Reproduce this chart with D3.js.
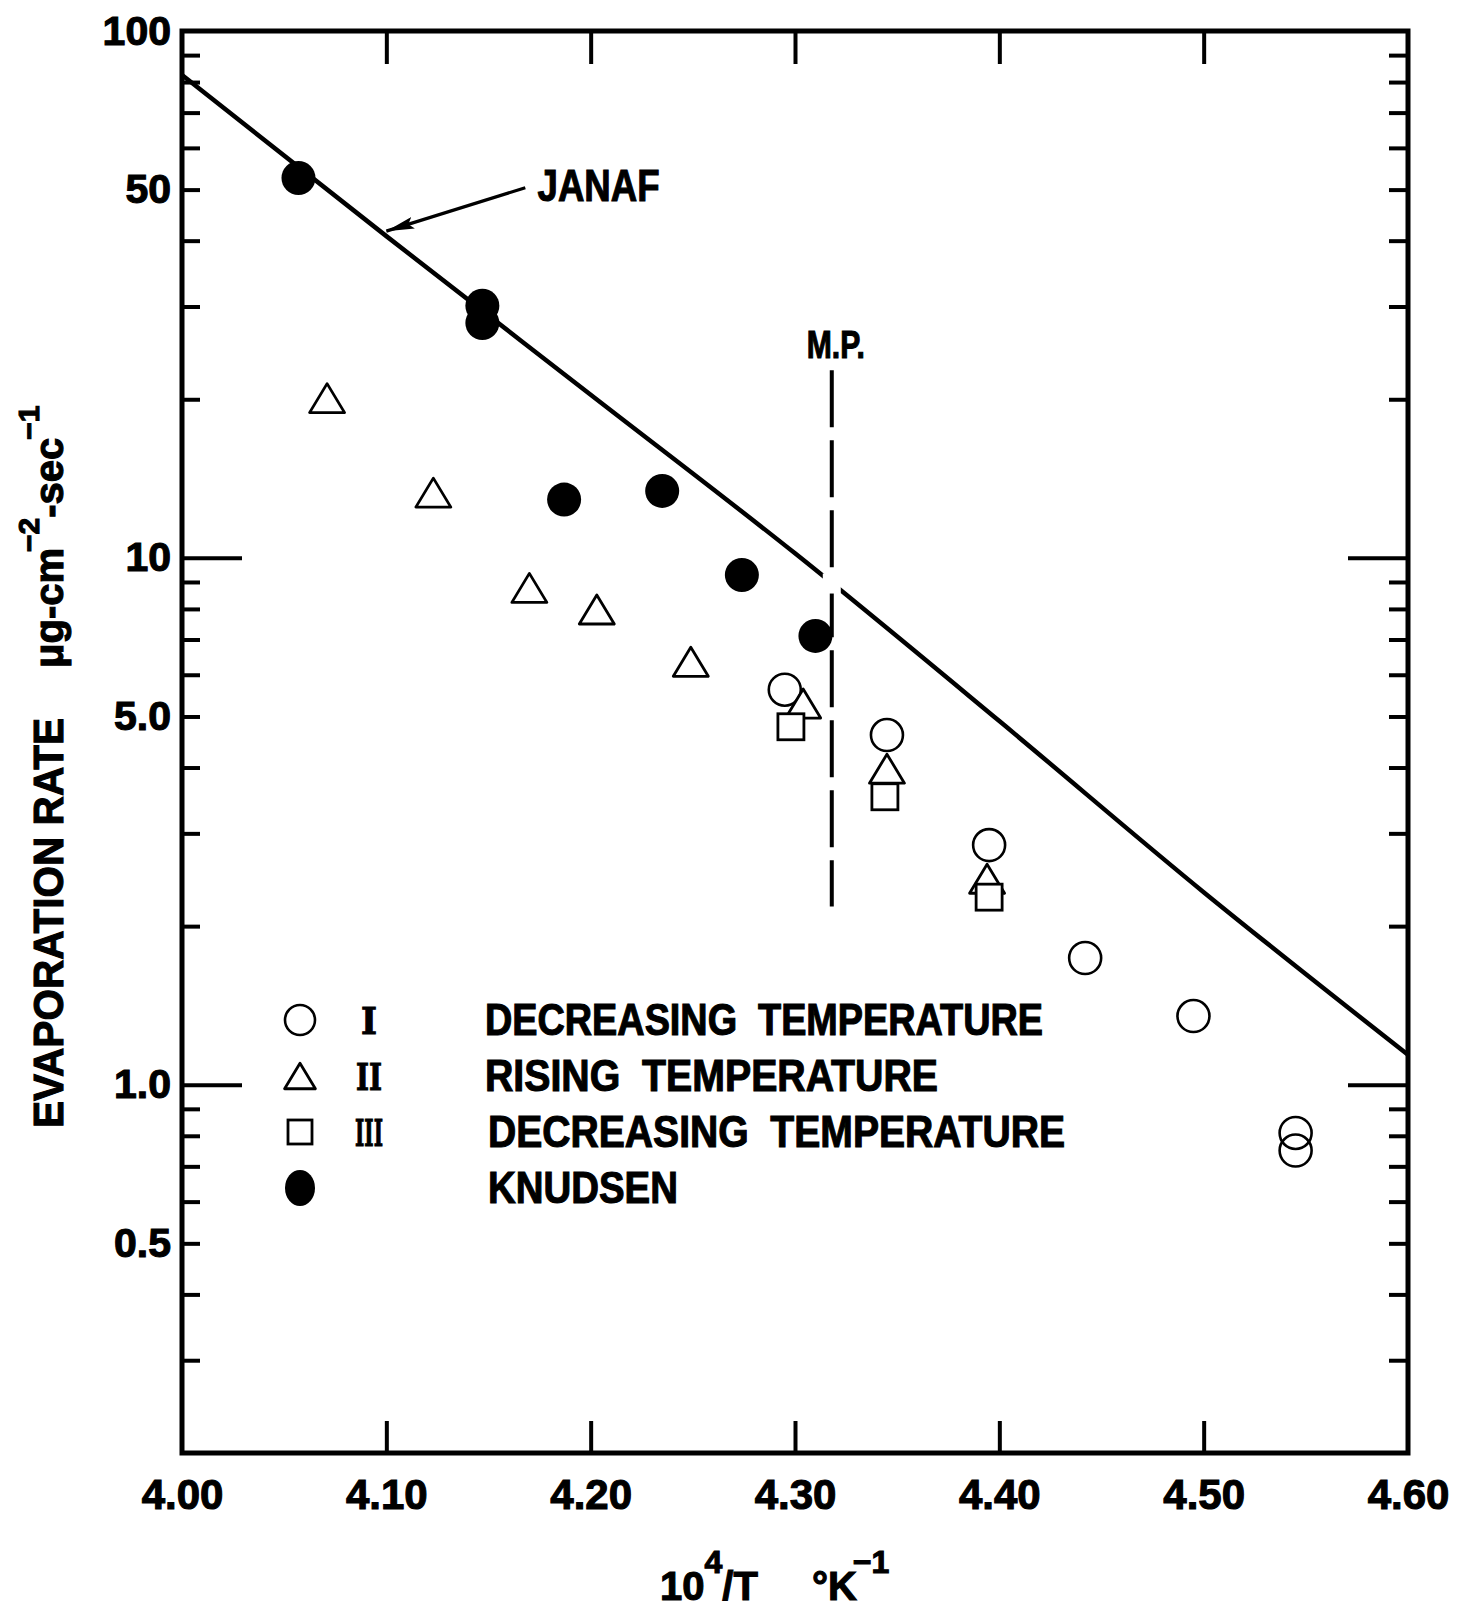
<!DOCTYPE html>
<html>
<head>
<meta charset="utf-8">
<script src="https://cdn.jsdelivr.net/npm/d3@7"></script>
<style>
  body { margin: 0; background: #fff; }
  text { font-family: "Liberation Sans", Arial, sans-serif; font-weight: bold; fill: #000; stroke: #000; stroke-width: 1.1px; white-space: pre; }
</style>
</head>
<body>
<div id="chart"></div>
<script>
// values: x = 10^4/T (degK^-1), y = evaporation rate (ug cm^-2 sec^-1)
var knudsenX = [4.057, 4.147, 4.147, 4.187, 4.235, 4.274, 4.310];
var knudsenY = [52.6, 30.1, 27.9, 12.9, 13.4, 9.28, 7.11];

var run1X = [4.295, 4.345, 4.395, 4.442, 4.495, 4.545, 4.545];
var run1Y = [5.62, 4.61, 2.85, 1.74, 1.35, 0.81, 0.75];

var run2X = [4.071, 4.123, 4.170, 4.203, 4.249, 4.304, 4.345, 4.394];
var run2Y = [20.1, 13.3, 8.77, 7.98, 6.35, 5.29, 3.98, 2.46];

var run3X = [4.298, 4.344, 4.395];
var run3Y = [4.78, 3.52, 2.27];

var janafX = [4.00, 4.10, 4.20, 4.30, 4.40, 4.50, 4.60];
var janafY = [82.5, 40.8, 20.4, 10.2, 4.90, 2.32, 1.14];

var meltX = 4.318;
var meltY = [22.7, 2.18];

var xTicks = [4.00, 4.10, 4.20, 4.30, 4.40, 4.50, 4.60];
var xTickText = ['4.00', '4.10', '4.20', '4.30', '4.40', '4.50', '4.60'];
var yLabels = [100, 50, 10, 5, 1, 0.5];
var yLabelText = ['100', '50', '10', '5.0', '1.0', '0.5'];
var yMajor = [10, 1];

var legendMarks = ['open', 'triangle', 'square', 'filled'];
var legendNums = ['I', 'II', 'III', ''];
var legendText = ['DECREASING  TEMPERATURE', 'RISING  TEMPERATURE', 'DECREASING  TEMPERATURE', 'KNUDSEN'];

var width = 1457, height = 1608;

var svg = d3.select('#chart')
    .append('svg')
    .attr('width', width)
    .attr('height', height)
    .style('background', '#fff');

var x = d3.scaleLinear().domain([4.0, 4.6]).range([182, 1408]);
var y = d3.scaleLog().domain([0.2, 100]).range([1453, 31]);

var minor = y.ticks().filter(d => d > 0.25 && Math.abs(Math.log10(d) - Math.round(Math.log10(d))) > 1e-6);
var inner = xTicks.slice(1, -1);

function tickAxis(axis, tx, ty) {
    svg.append('g')
        .attr('transform', `translate(${tx},${ty})`)
        .call(axis)
        .call(g => g.select('.domain').remove())
        .call(g => g.selectAll('line').attr('stroke', '#000').attr('stroke-width', 4));
}

// inward ticks on all four sides
tickAxis(d3.axisLeft(y).tickValues(minor).tickSize(-18).tickFormat(''), x(4.0), 0);
tickAxis(d3.axisLeft(y).tickValues(yMajor).tickSize(-60).tickFormat(''), x(4.0), 0);
tickAxis(d3.axisRight(y).tickValues(minor).tickSize(-19).tickFormat(''), x(4.6), 0);
tickAxis(d3.axisRight(y).tickValues(yMajor).tickSize(-60).tickFormat(''), x(4.6), 0);
tickAxis(d3.axisTop(x).tickValues(inner).tickSize(-33).tickFormat(''), 0, y(100));
tickAxis(d3.axisBottom(x).tickValues(inner).tickSize(-32).tickFormat(''), 0, y(0.2));

// frame
svg.append('rect')
    .attr('x', x(4.0))
    .attr('y', y(100))
    .attr('width', x(4.6) - x(4.0))
    .attr('height', y(0.2) - y(100))
    .attr('fill', 'none')
    .attr('stroke', '#000')
    .attr('stroke-width', 5);

// tick labels
svg.append('g')
    .attr('transform', `translate(${x(4.0)},0)`)
    .call(d3.axisLeft(y).tickValues(yLabels).tickSize(0).tickPadding(11).tickFormat((d, i) => yLabelText[i]))
    .call(g => g.select('.domain').remove())
    .attr('font-family', null)
    .attr('font-size', 41);

svg.append('g')
    .attr('transform', `translate(0,${y(0.2)})`)
    .call(d3.axisBottom(x).tickValues(xTicks).tickSize(0).tickPadding(26).tickFormat((d, i) => xTickText[i]))
    .call(g => g.select('.domain').remove())
    .attr('font-family', null)
    .attr('font-size', 42);

// JANAF curve
var janaf = d3.zip(janafX, janafY);
var line = d3.line().x(d => x(d[0])).y(d => y(d[1])).curve(d3.curveMonotoneX);

svg.append('path')
    .datum(janaf)
    .attr('d', line)
    .attr('fill', 'none')
    .attr('stroke', '#000')
    .attr('stroke-width', 4.5);

// melting point
svg.append('line')
    .attr('x1', x(meltX)).attr('x2', x(meltX))
    .attr('y1', y(meltY[0])).attr('y2', y(meltY[1]))
    .attr('stroke', '#000')
    .attr('stroke-width', 4)
    .attr('stroke-dasharray', '57,13');

var logJanaf = d3.scaleLinear().domain(janafX).range(janafY.map(Math.log10));
var meltCross = Math.pow(10, logJanaf(meltX));
svg.append('rect')
    .attr('x', x(meltX) - 9)
    .attr('y', y(meltCross) - 10)
    .attr('width', 18)
    .attr('height', 20)
    .attr('fill', '#fff');

svg.append('text')
    .attr('x', x(meltX) + 4)
    .attr('y', 358)
    .attr('text-anchor', 'middle')
    .attr('font-size', 38)
    .attr('textLength', 58)
    .attr('lengthAdjust', 'spacingAndGlyphs')
    .text('M.P.');

// JANAF label + arrow
svg.append('defs').append('marker')
    .attr('id', 'head')
    .attr('viewBox', '0 0 28 12')
    .attr('refX', 28).attr('refY', 6)
    .attr('markerWidth', 28).attr('markerHeight', 12)
    .attr('markerUnits', 'userSpaceOnUse')
    .attr('orient', 'auto')
    .append('path')
    .attr('d', 'M0,0L28,6L0,12L5,6Z')
    .attr('fill', '#000');

svg.append('line')
    .attr('x1', x(4.168)).attr('y1', y(50.4))
    .attr('x2', x(4.10)).attr('y2', y(janafY[1]) - 5)
    .attr('stroke', '#000')
    .attr('stroke-width', 3.2)
    .attr('marker-end', 'url(#head)');

svg.append('text')
    .attr('x', x(4.174))
    .attr('y', y(47.6))
    .attr('font-size', 44)
    .attr('textLength', 122)
    .attr('lengthAdjust', 'spacingAndGlyphs')
    .text('JANAF');

// markers
var tri = 'M0,-14.5L17.5,14.5L-17.5,14.5Z';

function openCircle(g, cx, cy, r) {
    g.append('circle').attr('cx', cx).attr('cy', cy).attr('r', r)
        .attr('fill', 'none').attr('stroke', '#000').attr('stroke-width', 2.6);
}
function triangle(g, cx, cy, s) {
    g.append('path').attr('d', tri).attr('transform', `translate(${cx},${cy}) scale(${s})`)
        .attr('fill', '#fff').attr('stroke', '#000').attr('stroke-width', 2.8 / s)
        .attr('stroke-linejoin', 'round');
}
function square(g, cx, cy, a) {
    g.append('rect').attr('x', cx - a / 2).attr('y', cy - a / 2).attr('width', a).attr('height', a)
        .attr('fill', '#fff').attr('stroke', '#000').attr('stroke-width', 2.8);
}

var points = svg.append('g');
run1X.forEach((d, i) => openCircle(points, x(d), y(run1Y[i]), 16));
run2X.forEach((d, i) => triangle(points, x(d), y(run2Y[i]), 1));
run3X.forEach((d, i) => square(points, x(d), y(run3Y[i]), 26));
points.selectAll('.knudsen')
    .data(d3.zip(knudsenX, knudsenY))
    .enter()
    .append('circle')
    .attr('class', 'knudsen')
    .attr('cx', d => x(d[0]))
    .attr('cy', d => y(d[1]))
    .attr('r', 17)
    .attr('fill', '#000');

// legend
var legend = svg.append('g').attr('transform', 'translate(300,1020)');
var textLen = [558, 453, 577, 190];
var numLen = [16, 26, 28, 0];
legendMarks.forEach((m, i) => {
    var cy = i * 56;
    if (m === 'open') openCircle(legend, 0, cy, 15);
    if (m === 'triangle') triangle(legend, 0, cy, 0.88);
    if (m === 'square') square(legend, 0, cy, 24);
    if (m === 'filled') legend.append('ellipse').attr('cx', 0).attr('cy', cy).attr('rx', 15).attr('ry', 18).attr('fill', '#000');

    if (legendNums[i]) {
        legend.append('text')
            .attr('x', 69 - numLen[i] / 2)
            .attr('y', cy + 14)
            .attr('font-size', 38)
            .attr('textLength', numLen[i])
            .attr('lengthAdjust', 'spacingAndGlyphs')
            .style('font-family', '"DejaVu Serif", "Liberation Serif", serif')
            .text(legendNums[i]);
    }

    legend.append('text')
        .attr('x', i < 2 ? 185 : 188)
        .attr('y', cy + 15)
        .attr('font-size', 44)
        .attr('textLength', textLen[i])
        .attr('lengthAdjust', 'spacingAndGlyphs')
        .text(legendText[i]);
});

// axis titles
var xTitle = svg.append('text')
    .attr('x', 660)
    .attr('y', 1600)
    .attr('font-size', 40);
xTitle.append('tspan').text('10');
xTitle.append('tspan').attr('dx', 0).attr('dy', -27).attr('font-size', 32).text('4');
xTitle.append('tspan').attr('dx', 0).attr('dy', 27).text('/T');
xTitle.append('tspan').attr('x', 812).text('\u00b0K');
xTitle.append('tspan').attr('dx', -4).attr('dy', -27).attr('font-size', 32).text('\u2212' + '1');

svg.append('text')
    .attr('transform', 'translate(63,1128) rotate(-90)')
    .attr('font-size', 43)
    .attr('textLength', 410)
    .attr('lengthAdjust', 'spacingAndGlyphs')
    .text('EVAPORATION RATE');

var yUnits = svg.append('text')
    .attr('transform', 'translate(63,668) rotate(-90)')
    .attr('font-size', 40);
yUnits.append('tspan').text('\u03bcg-cm');
yUnits.append('tspan').attr('dx', -4).attr('dy', -24).attr('font-size', 30).text('\u22122');
yUnits.append('tspan').attr('dy', 24).text('-sec');
yUnits.append('tspan').attr('dx', -2).attr('dy', -24).attr('font-size', 30).text('\u22121');
</script>
</body>
</html>
